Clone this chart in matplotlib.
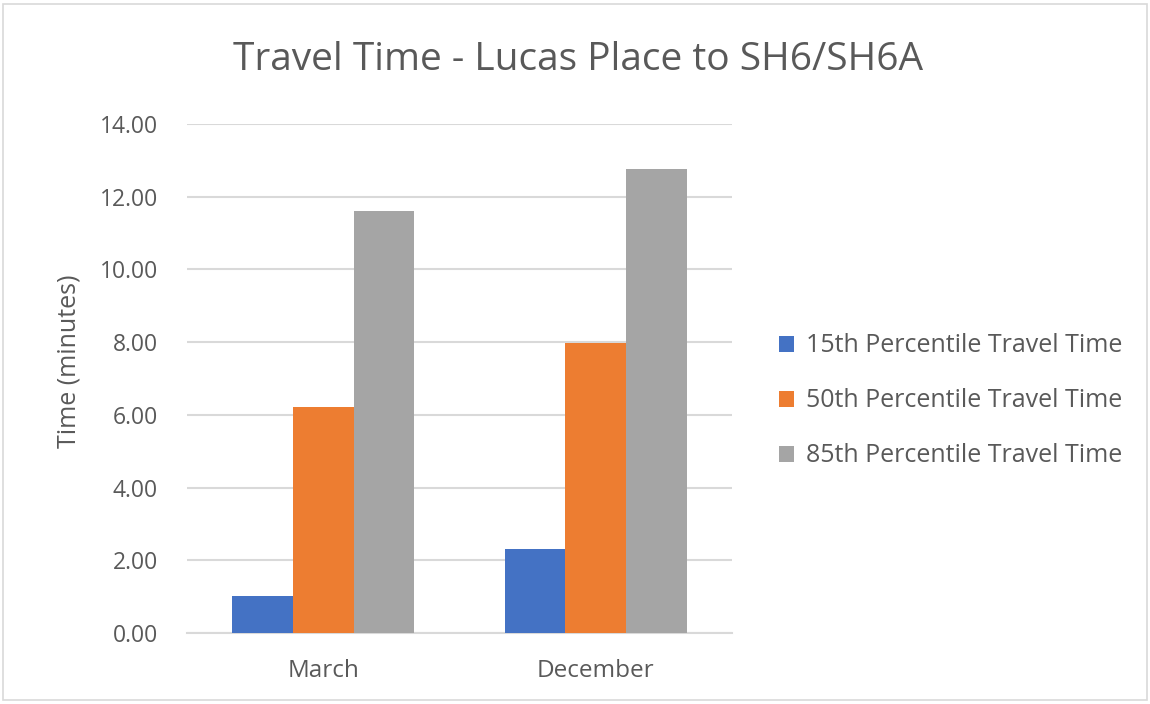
import matplotlib.pyplot as plt
import numpy as np
from matplotlib.patches import Rectangle

months = ["March", "December"]
p15 = [1.02, 2.31]
p50 = [6.21, 7.97]
p85 = [11.61, 12.75]
series_names = ["15th Percentile Travel Time", "50th Percentile Travel Time", "85th Percentile Travel Time"]
colors = ["#4472C4", "#ED7D31", "#A5A5A5"]
yticks = [0, 2, 4, 6, 8, 10, 12, 14]

plt.rcParams['font.family'] = ['Open Sans', 'DejaVu Sans']
txt = "#595959"

fig = plt.figure(figsize=(11.5, 7.04), dpi=100)
ax = fig.add_axes([0.1626, 0.1009, 0.4739, 0.7230])

x = np.arange(len(months))
w = 0.2222
for i, (vals, name, c) in enumerate(zip([p15, p50, p85], series_names, colors)):
    ax.bar(x + (i - 1) * w, vals, width=w, color=c, label=name, zorder=3)

ax.set_xlim(-0.5, 1.5)
ax.set_ylim(0, 14)
ax.set_yticks(yticks)
ax.set_yticklabels(["%.2f" % v for v in yticks], fontsize=16.5, color=txt)
ax.set_xticks(x)
ax.set_xticklabels(months, fontsize=17.5, color=txt)
ax.tick_params(axis='y', length=0, pad=21)
ax.tick_params(axis='x', length=0, pad=18.5)
ax.grid(axis='y', color="#D9D9D9", linewidth=1.5, zorder=0)
for s in ["top", "right", "left"]:
    ax.spines[s].set_visible(False)
ax.spines["bottom"].set_color("#D9D9D9")
ax.spines["bottom"].set_linewidth(1.5)

ax.set_ylabel("Time (minutes)", fontsize=18, color=txt)
ax.yaxis.set_label_coords(-0.194, 0.534)
fig.text(0.503, 0.915, "Travel Time - Lucas Place to SH6/SH6A", fontsize=28,
         color=txt, ha="center", va="center")

leg = ax.legend(loc="center left", bbox_to_anchor=(1.045, 0.4558), frameon=False,
                fontsize=18, labelcolor=txt, handlelength=0.6, handleheight=0.6,
                handletextpad=0.48, labelspacing=1.2)

fig.patches.append(Rectangle((0.003, 0.006), 0.994, 0.988, transform=fig.transFigure,
                             fill=False, edgecolor="#D9D9D9", linewidth=1.2))

fig.savefig("out.png", dpi=100)
